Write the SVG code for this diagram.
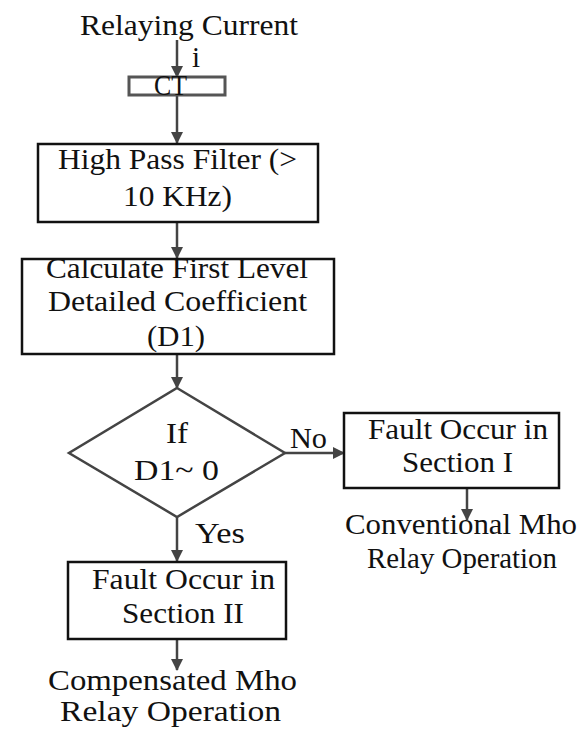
<svg xmlns="http://www.w3.org/2000/svg" width="586" height="729" viewBox="0 0 586 729">
<style>
text{font-family:"Liberation Serif","Times New Roman",serif;font-size:29px;fill:#111}
.box{fill:#fff;stroke:#111;stroke-width:2.5}
.ct{fill:#fff;stroke:#555;stroke-width:3}
.con{stroke:#444;stroke-width:2.5;fill:none}
</style>
<defs>
<marker id="ah" markerUnits="userSpaceOnUse" markerWidth="12" markerHeight="12" refX="11" refY="6" orient="auto">
<path d="M0,0 L12,6 L0,12 Z" fill="#444"/>
</marker>
</defs>
<rect width="586" height="729" fill="#fff"/>
<g id="connectors">
<line class="con" x1="177" y1="40" x2="177" y2="77" marker-end="url(#ah)"/>
<line class="con" x1="177" y1="95" x2="177" y2="143" marker-end="url(#ah)"/>
<line class="con" x1="177" y1="222" x2="177" y2="258" marker-end="url(#ah)"/>
<line class="con" x1="177" y1="354" x2="177" y2="388" marker-end="url(#ah)"/>
<line class="con" x1="285" y1="453" x2="344" y2="453" marker-end="url(#ah)"/>
<line class="con" x1="177" y1="517" x2="177" y2="561" marker-end="url(#ah)"/>
<line class="con" x1="467" y1="488" x2="467" y2="520" marker-end="url(#ah)"/>
<line class="con" x1="177" y1="639" x2="177" y2="670" marker-end="url(#ah)"/>
<text x="192" y="67" font-size="26">i</text>
<text x="290" y="448" font-size="25" textLength="37" lengthAdjust="spacingAndGlyphs">No</text>
<text x="195" y="543" textLength="50" lengthAdjust="spacingAndGlyphs">Yes</text>
</g>
<g id="input">
<text x="80" y="35" textLength="218" lengthAdjust="spacingAndGlyphs">Relaying Current</text>
</g>
<g id="ct">
<rect class="ct" x="129" y="77" width="96" height="18"/>
<text x="154" y="95" font-size="27" textLength="33" lengthAdjust="spacingAndGlyphs">CT</text>
</g>
<g id="hpf">
<rect class="box" x="38" y="144" width="280" height="78"/>
<text x="58" y="169" textLength="239" lengthAdjust="spacingAndGlyphs">High Pass Filter (&gt;</text>
<text x="123" y="206" textLength="109" lengthAdjust="spacingAndGlyphs">10 KHz)</text>
</g>
<g id="calc">
<rect class="box" x="22" y="259" width="312" height="95"/>
<text x="46" y="278" textLength="262" lengthAdjust="spacingAndGlyphs">Calculate First Level</text>
<text x="48" y="311" textLength="259" lengthAdjust="spacingAndGlyphs">Detailed Coefficient</text>
<text x="147" y="346" textLength="58" lengthAdjust="spacingAndGlyphs">(D1)</text>
</g>
<g id="decision">
<polygon points="177,388 285,453 177,517 69,453" fill="#fff" stroke="#444" stroke-width="2.5"/>
<text x="166" y="443" textLength="22" lengthAdjust="spacingAndGlyphs">If</text>
<text x="134" y="480" textLength="85" lengthAdjust="spacingAndGlyphs">D1~ 0</text>
</g>
<g id="section1">
<rect class="box" x="344" y="413" width="215" height="75"/>
<text x="368" y="439" textLength="180" lengthAdjust="spacingAndGlyphs">Fault Occur in</text>
<text x="402" y="472" textLength="111" lengthAdjust="spacingAndGlyphs">Section I</text>
</g>
<g id="conventional">
<text x="345" y="534" textLength="232" lengthAdjust="spacingAndGlyphs">Conventional Mho</text>
<text x="367" y="568" textLength="190" lengthAdjust="spacingAndGlyphs">Relay Operation</text>
</g>
<g id="section2">
<rect class="box" x="68" y="562" width="218" height="77"/>
<text x="92" y="589" textLength="183" lengthAdjust="spacingAndGlyphs">Fault Occur in</text>
<text x="122" y="623" textLength="122" lengthAdjust="spacingAndGlyphs">Section II</text>
</g>
<g id="compensated">
<text x="48" y="690" textLength="249" lengthAdjust="spacingAndGlyphs">Compensated Mho</text>
<text x="60" y="721" font-size="28" textLength="221" lengthAdjust="spacingAndGlyphs">Relay Operation</text>
</g>
</svg>
